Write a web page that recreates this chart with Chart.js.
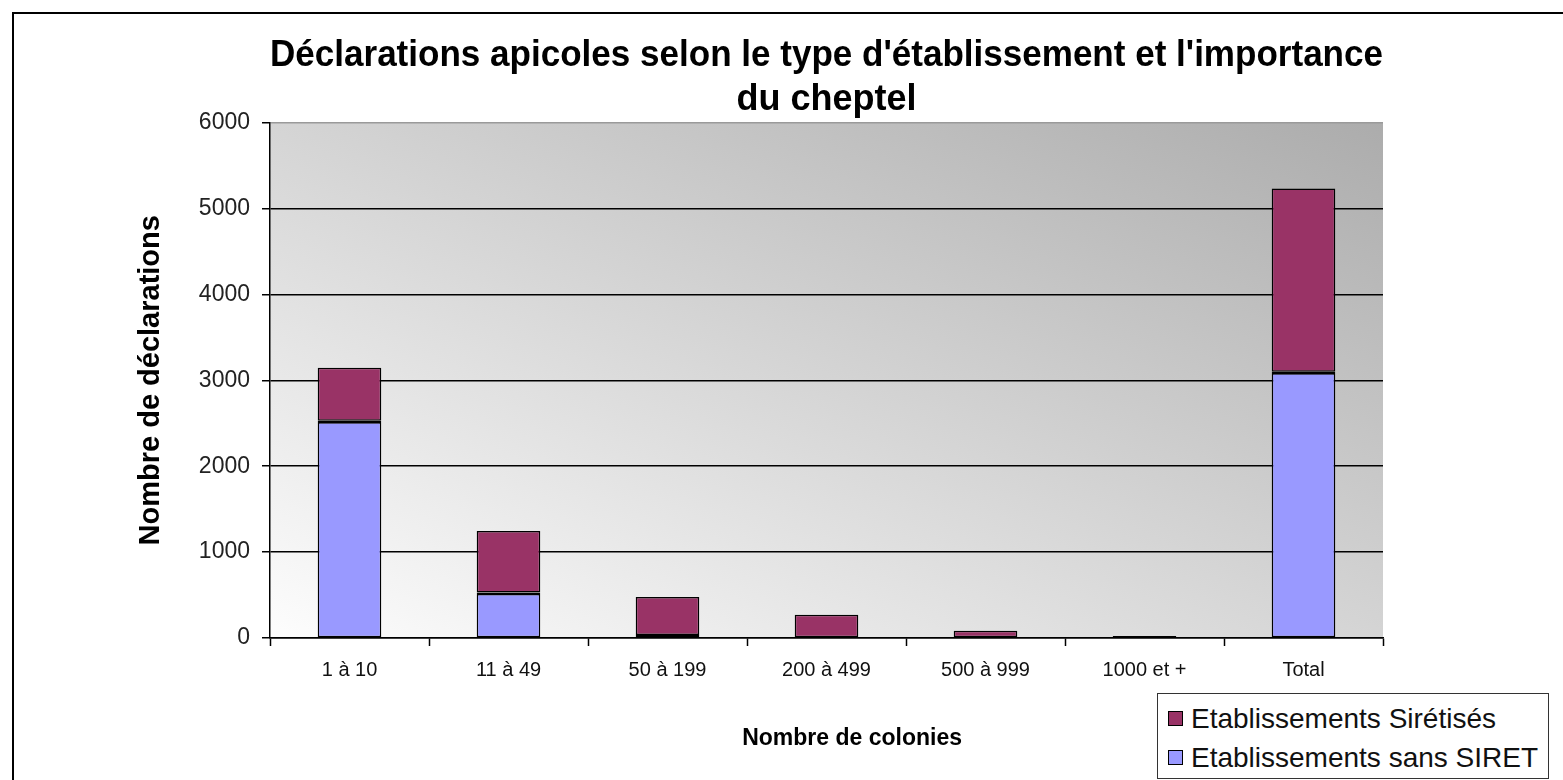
<!DOCTYPE html>
<html>
<head>
<meta charset="utf-8">
<script src="https://cdn.jsdelivr.net/npm/chart.js@4/dist/chart.umd.min.js"></script>
<style>
    html, body { margin: 0; padding: 0; background: #fff; overflow: hidden; }
    body { width: 1563px; height: 780px; position: relative; font-family: "Liberation Sans", Arial, sans-serif; }
    #frame { position: absolute; left: 12px; top: 12px; width: 1600px; height: 800px; border: 2px solid #000; box-sizing: border-box; }
    #chart { position: absolute; left: 0; top: 0; }
    #legend { position: absolute; left: 1157px; top: 693px; width: 392px; height: 86px; border: 1.5px solid #333; background: #fff; box-sizing: border-box; padding: 5px 0 0 10px; }
    #legend .item { display: flex; align-items: center; height: 39px; font-size: 28px; color: #111; white-space: nowrap; }
    #legend .swatch { width: 15px; height: 15px; border: 1.5px solid #000; margin-right: 8px; box-sizing: border-box; }
</style>
</head>
<body>
<div id="frame"></div>
<canvas id="chart" width="1563" height="780"></canvas>
<div id="legend"></div>
<script>
const categories = ['1 à 10', '11 à 49', '50 à 199', '200 à 499', '500 à 999', '1000 et +', 'Total'];
const sansSiret = [2530, 530, 35, 8, 0, 0, 3100];
const siretises = [616, 715, 443, 264, 85, 22, 2131];
const yTicks = [0, 1000, 2000, 3000, 4000, 5000, 6000];

const blue = '#9999FF';
const red = '#993366';
const fontFamily = '"Liberation Sans", Arial, sans-serif';

// Excel style diagonal gradient behind the plot area
const plotBackground = {
    id: 'plotBackground',
    beforeDraw(chart) {
        const {ctx, chartArea} = chart;
        const w = chartArea.right - chartArea.left;
        const h = chartArea.bottom - chartArea.top;
        const cx = chartArea.left + w / 2;
        const cy = chartArea.top + h / 2;
        const k = (w * h) / (w * w + h * h);
        const grad = ctx.createLinearGradient(cx - h * k, cy + w * k, cx + h * k, cy - w * k);
        grad.addColorStop(0, '#fdfdfd');
        grad.addColorStop(1, '#acacac');
        ctx.save();
        ctx.fillStyle = grad;
        ctx.fillRect(chartArea.left, chartArea.top, w, h);
        ctx.restore();
    }
};

const ctx = document.getElementById('chart').getContext('2d');
const chart = new Chart(ctx, {
    type: 'bar',
    data: {
        labels: categories,
        datasets: [
            {
                label: 'Etablissements sans SIRET',
                data: sansSiret,
                backgroundColor: blue,
                borderColor: '#000',
                borderWidth: { top: 3, left: 1.5, right: 1.5, bottom: 1.5 },
                borderSkipped: false,
            },
            {
                label: 'Etablissements Sirétisés',
                data: siretises,
                backgroundColor: red,
                borderColor: '#000',
                borderWidth: 1.5,
                borderSkipped: false,
            },
        ],
    },
    options: {
        responsive: false,
        animation: false,
        layout: { padding: { left: 12, right: 180, top: 0, bottom: 0 } },
        datasets: { bar: { categoryPercentage: 1, barPercentage: 0.4 } },
        plugins: {
            legend: { display: false },
            tooltip: { enabled: false },
            title: {
                display: true,
                fullSize: false,
                text: ["Déclarations apicoles selon le type d'établissement et l'importance", 'du cheptel'],
                color: '#000',
                font: { family: fontFamily, size: 36, weight: 'bold', lineHeight: 1.23 },
                padding: { top: 34, bottom: 0 },
            },
        },
        scales: {
            x: {
                stacked: true,
                offset: true,
                grid: { offset: true, drawOnChartArea: false, tickLength: 8, tickColor: '#000', tickWidth: 1.5 },
                border: { color: '#000', width: 1.5 },
                ticks: { color: '#111', padding: 12, font: { family: fontFamily, size: 20 } },
                title: {
                    display: true,
                    text: '        Nombre de colonies',
                    color: '#000',
                    font: { family: fontFamily, size: 23, weight: 'bold' },
                    padding: { top: 0, bottom: 28 },
                },
                afterFit(scale) { scale.height = 142; },
            },
            y: {
                stacked: true,
                min: 0,
                max: 6000,
                afterBuildTicks(scale) { scale.ticks = yTicks.map(v => ({ value: v })); },
                grid: {
                    color: c => (c.tick && c.tick.value === 6000 ? '#9a9a9a' : '#000'),
                    lineWidth: 1.5,
                    tickLength: 8,
                    tickColor: '#000',
                },
                border: { color: '#000', width: 1.5 },
                ticks: {
                    color: '#222',
                    padding: 12,
                    font: { family: fontFamily, size: 23 },
                    callback: value => String(value),
                },
                title: {
                    display: true,
                    text: 'Nombre de déclarations',
                    color: '#000',
                    font: { family: fontFamily, size: 29, weight: 'bold' },
                    padding: { top: 122, bottom: 0 },
                },
                afterFit(scale) { scale.width = 258; },
            },
        },
    },
    plugins: [plotBackground],
});

// legend box drawn in html, order as in the original (top series first)
const legend = document.getElementById('legend');
chart.data.datasets.slice().reverse().forEach(ds => {
    const item = document.createElement('div');
    item.className = 'item';
    item.innerHTML = `<span class="swatch" style="background:${ds.backgroundColor}"></span><span>${ds.label}</span>`;
    legend.appendChild(item);
});
</script>
</body>
</html>
